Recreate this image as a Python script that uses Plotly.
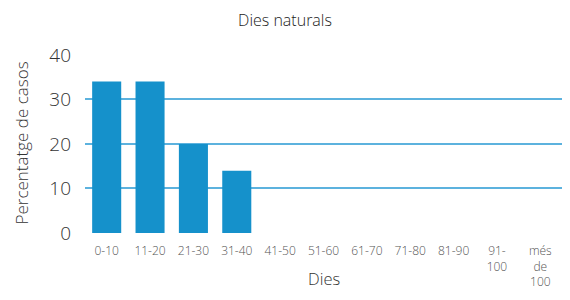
import plotly.graph_objects as go

categories = ["0-10", "11-20", "21-30", "31-40", "41-50", "51-60", "61-70",
              "71-80", "81-90", "91-<br>100", "més<br>de<br>100"]
values = [34, 34, 20, 14, 0, 0, 0, 0, 0, 0, 0]
y_ticks = [0, 10, 20, 30, 40]

fig = go.Figure(go.Bar(x=categories, y=values, marker_color="#1591cb",
                       marker_line_width=0))

FONT = "Open Sans"
# page body adds an 8px margin; keep the whole figure inside the 570x300 window
W, H = 554, 284
L, T = 77, 46
B = H - 225
PW, PH = W - L, H - T - B
fig.update_layout(
    width=W, height=H,
    margin=dict(l=L, r=0, t=T, b=B),
    paper_bgcolor="white", plot_bgcolor="white",
    bargap=0.33,
    showlegend=False,
    font=dict(family=FONT, color="#333", weight=300),
    title=dict(text="Dies naturals", x=277 / W, xref="container", xanchor="center",
               y=1 - 12 / H, yref="container", yanchor="middle",
               font=dict(family=FONT, size=16, color="#222", weight=300)),
)
fig.add_annotation(text="Dies", xref="paper", yref="paper", x=0.5,
                   y=-(270 - (T + PH)) / PH, yanchor="middle", showarrow=False,
                   font=dict(family=FONT, size=16.5, color="#333", weight=300))
fig.add_annotation(text="Percentatge de casos", xref="paper", yref="paper",
                   x=-(L - 13) / PW, xanchor="center", y=0.5, yanchor="middle",
                   textangle=-90, showarrow=False,
                   font=dict(family=FONT, size=17, color="#333", weight=300))
fig.update_xaxes(
    type="category", range=[-0.5, 10.5], automargin=False,
    showgrid=False, showline=False, zeroline=False,
    tickfont=dict(family=FONT, size=12, color="#555", weight=300),
    ticks="", ticklabelstandoff=9,
)
fig.update_yaxes(
    range=[0, 40.2], tickvals=y_ticks, automargin=False,
    showgrid=True, gridcolor="#5cb2de", gridwidth=1.5,
    zeroline=False, showline=False,
    tickfont=dict(family=FONT, size=19, color="#333", weight=300),
    ticks="", ticklabelstandoff=13,
)
fig.write_html("out.html")
